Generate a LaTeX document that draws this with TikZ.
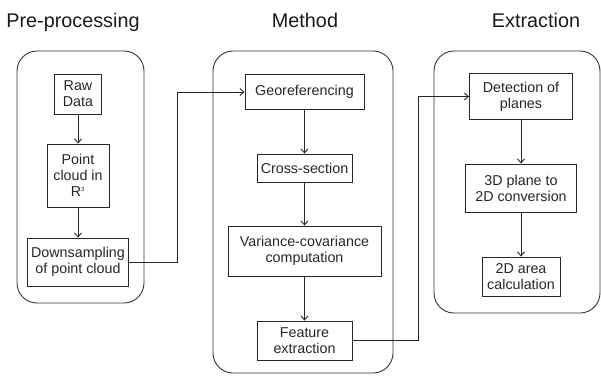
\documentclass[tikz,border=0pt]{standalone}
\usepackage{fontspec}
\setmainfont{Liberation Sans}
\usetikzlibrary{arrows.meta}
\begin{document}
\begin{tikzpicture}[x=1pt,y=-1pt,
  box/.style={draw=black!85, line width=0.9pt, align=center, inner sep=0pt,
    font=\fontsize{14.3}{16}\selectfont, text=black!85},
  group/.style={draw=black!80, line width=0.9pt, rounded corners=20pt},
  title/.style={font=\fontsize{19.8}{22}\selectfont, anchor=base, text=black!90, inner sep=0pt},
  arr/.style={line width=0.9pt, draw=black!85, -{Straight Barb[length=4pt,width=7pt]}}]
\useasboundingbox (0,0) rectangle (601,376);

% titles
\node[title] (t1) at (73,27) {Pre-processing};
\node[title] (t2) at (305,27) {Method};
\node[title] (t3) at (536,27) {Extraction};

% groups
\draw[group] (17,51) rectangle (144,303);
\draw[group] (213,51) rectangle (393,373);
\draw[group] (434,51) rectangle (600,313);

% column 1
\node[box, minimum width=47pt, minimum height=40pt] (raw) at (78,94) {Raw\\Data};
\node[box, minimum width=62pt, minimum height=63pt] (pc) at (78,175.5) {Point\\cloud in\\R\textsuperscript{\fontsize{6}{6}\selectfont 3}};
\node[box, minimum width=101pt, minimum height=48pt] (down) at (78,262) {Downsampling\\of point cloud};

% column 2
\node[box, minimum width=119pt, minimum height=35pt] (geo) at (304.5,92) {Georeferencing};
\node[box, minimum width=95pt, minimum height=28pt] (cross) at (304.5,168) {Cross-section};
\node[box, minimum width=153pt, minimum height=50pt] (var) at (304.5,251) {Variance-covariance\\computation};
\node[box, minimum width=95pt, minimum height=39pt] (feat) at (304.5,340.5) {Feature\\extraction};

% column 3
\node[box, minimum width=103pt, minimum height=46pt] (det) at (521,96.5) {Detection of\\planes};
\node[box, minimum width=111pt, minimum height=48pt] (p3d) at (521,188) {3D plane to\\2D conversion};
\node[box, minimum width=78pt, minimum height=39pt] (area) at (521,276.5) {2D area\\calculation};

% arrows
\draw[arr] (raw) -- (pc);
\draw[arr] (pc) -- (down);
\draw[arr] (geo) -- (cross);
\draw[arr] (cross) -- (var);
\draw[arr] (var) -- (feat);
\draw[arr] (det) -- (p3d);
\draw[arr] (p3d) -- (area);

\coordinate (k1) at (177,262);
\coordinate (k2) at (418,340.5);
\draw[arr] (down.east) -- (k1) |- (geo.west);
\draw[arr] (feat.east) -- (k2) |- (det.west);
\end{tikzpicture}
\end{document}
